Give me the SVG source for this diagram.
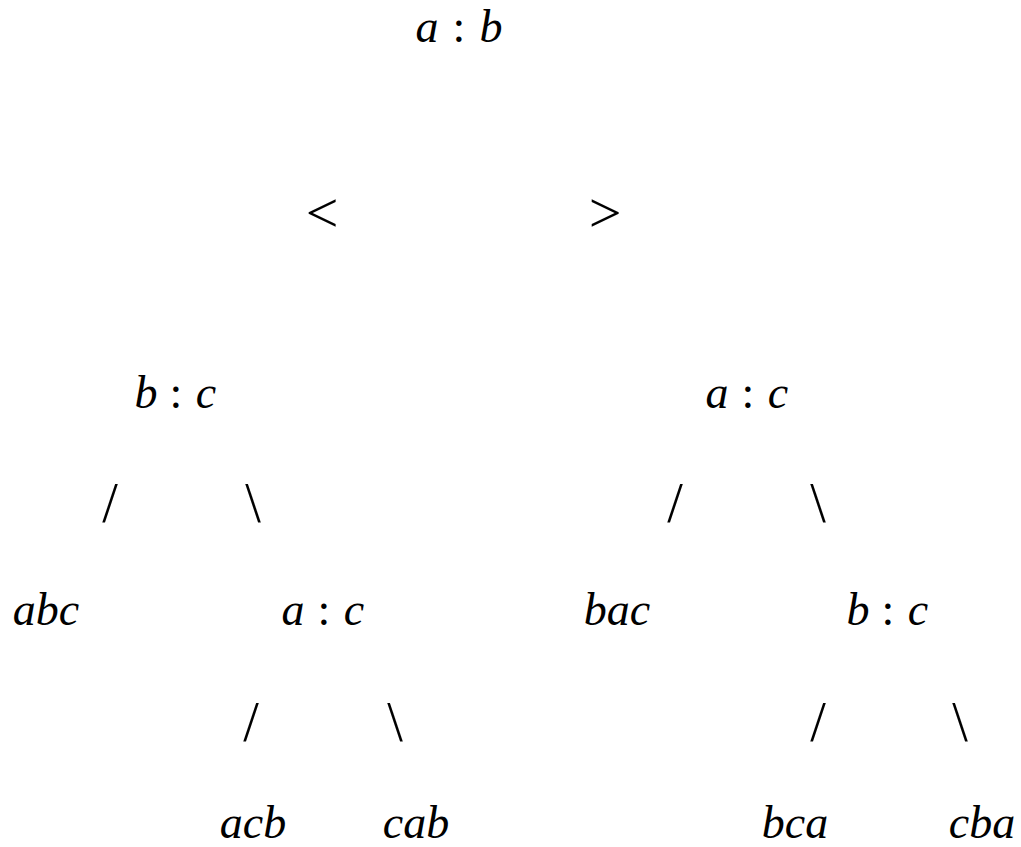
<svg xmlns="http://www.w3.org/2000/svg" width="1021" height="847" viewBox="0 0 1021 847">
<style>
text{font-family:"Liberation Serif","DejaVu Serif",serif;font-size:46px;fill:#000;text-anchor:middle}
.v{font-style:italic}
.c{font-style:normal}
.e{font-style:normal;font-size:56px}
.l{font-style:normal;font-size:58px}
</style>
<rect width="1021" height="847" fill="#fff"/>
<g id="connectors">
<text class="l" x="322" y="232">&lt;</text>
<text class="l" x="605" y="232">&gt;</text>
<text class="e" x="110" y="522">/</text>
<text class="e" x="253" y="522">\</text>
<text class="e" x="675" y="522">/</text>
<text class="e" x="818" y="522">\</text>
<text class="e" x="251" y="741">/</text>
<text class="e" x="395" y="741">\</text>
<text class="e" x="818" y="741">/</text>
<text class="e" x="960" y="741">\</text>
</g>
<g id="root"><text y="42"><tspan class="v" x="427">a</tspan><tspan class="c" x="459">:</tspan><tspan class="v" x="491">b</tspan></text></g>
<g id="n_bc"><text y="408"><tspan class="v" x="146">b</tspan><tspan class="c" x="176">:</tspan><tspan class="v" x="206">c</tspan></text></g>
<g id="n_ac"><text y="408"><tspan class="v" x="717">a</tspan><tspan class="c" x="748">:</tspan><tspan class="v" x="778">c</tspan></text></g>
<g id="leaf_abc"><text class="v" x="46" y="625">abc</text></g>
<g id="n_ac2"><text y="625"><tspan class="v" x="293">a</tspan><tspan class="c" x="324">:</tspan><tspan class="v" x="354">c</tspan></text></g>
<g id="leaf_bac"><text class="v" x="617" y="625">bac</text></g>
<g id="n_bc2"><text y="625"><tspan class="v" x="858">b</tspan><tspan class="c" x="888">:</tspan><tspan class="v" x="918">c</tspan></text></g>
<g id="leaf_acb"><text class="v" x="253" y="838">acb</text></g>
<g id="leaf_cab"><text class="v" x="416" y="838">cab</text></g>
<g id="leaf_bca"><text class="v" x="795" y="838">bca</text></g>
<g id="leaf_cba"><text class="v" x="982" y="838">cba</text></g>
</svg>
